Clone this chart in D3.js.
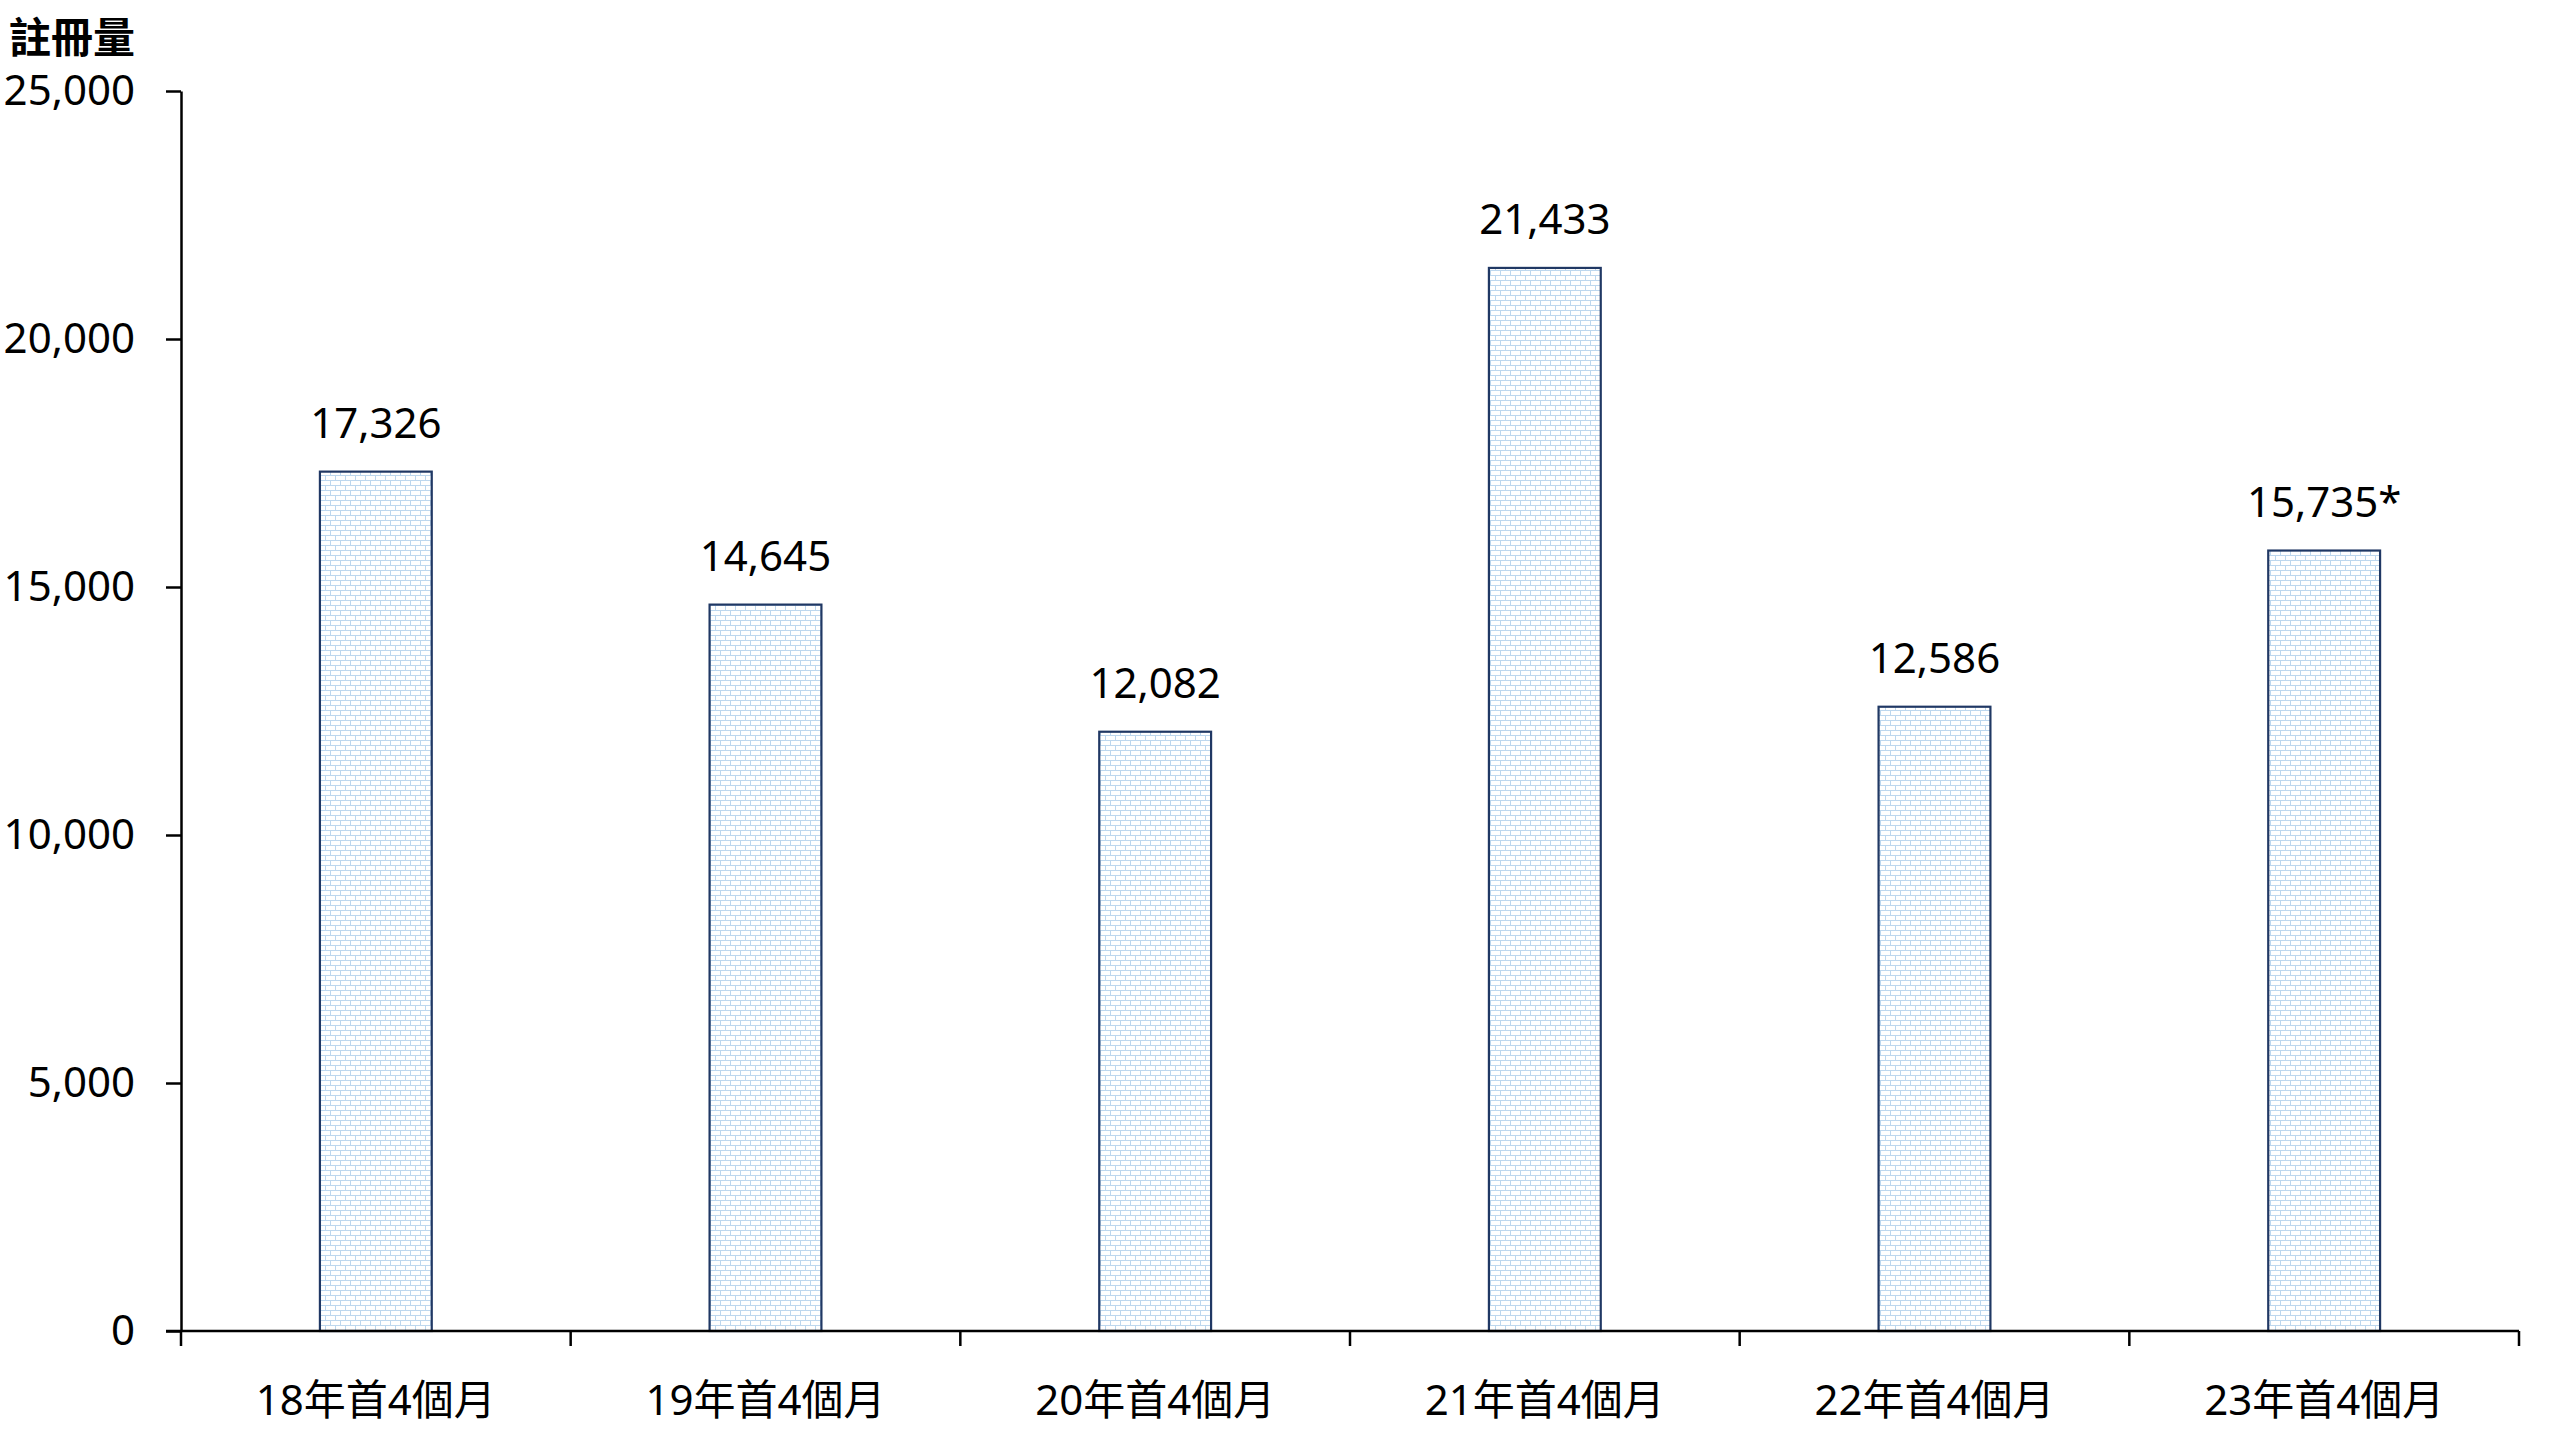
<!DOCTYPE html>
<html>
<head>
<meta charset="utf-8">
<script src="https://cdn.jsdelivr.net/npm/d3@7"></script>
<style>
  html, body { margin: 0; padding: 0; background: #fff; }
  svg text { font-family: "Noto Sans", "Noto Sans CJK TC", sans-serif; fill: #000; }
</style>
</head>
<body>
<div id="chart"></div>
<script>
// data
const categories = ["18年首4個月", "19年首4個月", "20年首4個月", "21年首4個月", "22年首4個月", "23年首4個月"];
const values = [17326, 14645, 12082, 21433, 12586, 15735];
const valueLabels = ["17,326", "14,645", "12,082", "21,433", "12,586", "15,735*"];
const yTicks = [0, 5000, 10000, 15000, 20000, 25000];
const yTitle = "註冊量";

const width = 2560;
const height = 1440;
const margin = { top: 91, right: 41, bottom: 109, left: 181 };

const svg = d3.select("#chart")
  .append("svg")
  .attr("width", width)
  .attr("height", height);

// brick fill like the spreadsheet pattern
const defs = svg.append("defs");
const pat = defs.append("pattern")
  .attr("id", "brick")
  .attr("patternUnits", "userSpaceOnUse")
  .attr("width", 10)
  .attr("height", 10);
pat.append("rect").attr("width", 10).attr("height", 10).attr("fill", "#fff");
pat.append("path")
  .attr("d", "M0,0.5H10M0,5.5H10M0.5,0V5M5.5,5V10")
  .attr("stroke", "#bdd7ee")
  .attr("stroke-width", 1)
  .attr("fill", "none");

const x = d3.scaleBand()
  .domain(categories)
  .range([margin.left, width - margin.right])
  .padding(0);

const y = d3.scaleLinear()
  .domain([0, 25000])
  .range([height - margin.bottom, margin.top]);

const barW = x.bandwidth() * 0.287;

// bars
svg.append("g")
  .selectAll("rect")
  .data(values)
  .enter()
  .append("rect")
  .attr("x", (d, i) => x(categories[i]) + (x.bandwidth() - barW) / 2)
  .attr("y", (d) => y(d))
  .attr("width", barW)
  .attr("height", (d) => y(0) - y(d))
  .attr("fill", "url(#brick)")
  .attr("stroke", "#203864")
  .attr("stroke-width", 2.2);

// value labels
svg.append("g")
  .selectAll("text")
  .data(values)
  .enter()
  .append("text")
  .attr("x", (d, i) => x(categories[i]) + x.bandwidth() / 2)
  .attr("y", (d) => y(d) - 34)
  .attr("text-anchor", "middle")
  .style("font-size", "42px")
  .text((d, i) => valueLabels[i]);

// y axis
const yAxis = svg.append("g")
  .attr("transform", `translate(${margin.left},0)`)
  .call(d3.axisLeft(y).tickValues(yTicks).tickFormat(d3.format(",")).tickSize(15).tickSizeOuter(0).tickPadding(31));
yAxis.select(".domain").attr("stroke", "#000").attr("stroke-width", 2.5);
yAxis.selectAll(".tick line").attr("stroke", "#000").attr("stroke-width", 2.5);
yAxis.selectAll(".tick text")
  .style("font-size", "42px")
  .style("font-family", null);

// x axis: line plus ticks at the category boundaries
const xg = svg.append("g");
xg.append("line")
  .attr("x1", margin.left - 15)
  .attr("x2", width - margin.right)
  .attr("y1", y(0))
  .attr("y2", y(0))
  .attr("stroke", "#000")
  .attr("stroke-width", 2.5);

const bounds = categories.map((c) => x(c)).concat([x.range()[1]]);
xg.selectAll(".xtick")
  .data(bounds)
  .enter()
  .append("line")
  .attr("class", "xtick")
  .attr("x1", (d) => d)
  .attr("x2", (d) => d)
  .attr("y1", y(0))
  .attr("y2", y(0) + 15)
  .attr("stroke", "#000")
  .attr("stroke-width", 2.5);

xg.selectAll(".xlabel")
  .data(categories)
  .enter()
  .append("text")
  .attr("class", "xlabel")
  .attr("x", (d) => x(d) + x.bandwidth() / 2)
  .attr("y", 1415)
  .attr("text-anchor", "middle")
  .style("font-size", "42px")
  .text((d) => d);

// axis title
svg.append("text")
  .attr("x", 9)
  .attr("y", 53)
  .style("font-size", "42px")
  .style("font-weight", "bold")
  .style("font-family", "'Noto Sans CJK TC', sans-serif")
  .text(yTitle);
</script>
</body>
</html>
